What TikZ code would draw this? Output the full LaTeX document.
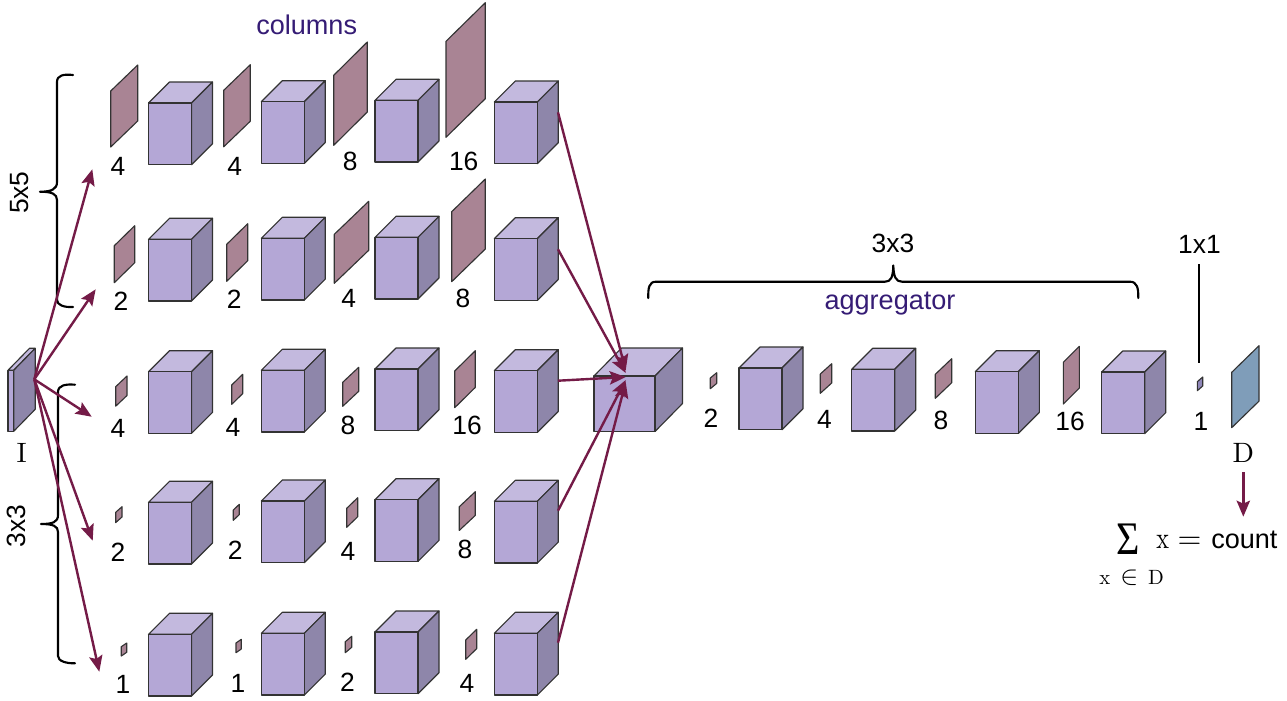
\documentclass[tikz,border=0pt]{standalone}
\usepackage{fontspec}
\usetikzlibrary{arrows.meta}
\newfontfamily\arialface{Liberation Sans}
\newfontfamily\sumface{Liberation Serif}
\definecolor{frontc}{HTML}{B4A7D6}
\definecolor{topc}{HTML}{C3B9DE}
\definecolor{sidec}{HTML}{8E86AA}
\definecolor{platec}{HTML}{A98494}
\definecolor{tinyc}{HTML}{8E86B8}
\definecolor{densc}{HTML}{7F9DB9}
\definecolor{arrowc}{HTML}{741B47}
\definecolor{textc}{HTML}{351C75}
\tikzset{
  edgeline/.style={draw=black!80,line width=0.85pt,line join=round},
  frontface/.style={edgeline,fill=frontc,rectangle,inner sep=0pt,outer sep=0pt,anchor=north west},
  numlabel/.style={inner sep=0pt,font=\fontsize{19.8}{22}\selectfont\arialface},
  tintlabel/.style={inner sep=0pt,anchor=base,text=textc,font=\fontsize{20.3}{22}\selectfont\arialface},
  seriflabel/.style={inner sep=0pt,scale=2.1},
  bracket/.style={draw=black,line width=1.6pt,line cap=round,line join=round},
  flow/.style={draw=arrowc,line width=1.8pt,-{Stealth[length=12pt,width=10pt,inset=2.2pt]}},
}
% name, x, y, w, h, dx, dy (y axis points down, in reference pixels)
\newcommand\boxthree[7]{%
  \path[edgeline,fill=topc] (#2,#3) -- ({#2+#6},{#3-#7}) -- ({#2+#4+#6},{#3-#7}) -- ({#2+#4},#3) -- cycle;
  \path[edgeline,fill=sidec] ({#2+#4},#3) -- ({#2+#4+#6},{#3-#7}) -- ({#2+#4+#6},{#3+#5-#7}) -- ({#2+#4},{#3+#5}) -- cycle;
  \node[frontface,minimum width={#4*0.75pt},minimum height={#5*0.75pt}] (#1) at (#2,#3) {};
}
% x1, ytl, x2, ytr, h, colour
\newcommand\plateshape[6]{%
  \path[edgeline,fill=#6] (#1,#2) -- (#3,#4) -- (#3,{#4+#5}) -- (#1,{#2+#5}) -- cycle;
}
\begin{document}
\begin{tikzpicture}[x=0.75pt,y=-0.75pt]
\useasboundingbox (0,0) rectangle (1287,700);
\fill[white] (0,0) rectangle (1287,700);

% input
\boxthree{inp}{8}{370.3}{5.7}{61}{21.5}{22}

% column cubes
\foreach \cx/\cy [count=\i] in {
 148.5/103,261.3/101.7,375/100.3,494.3/102,
 148.5/239.3,261.3/238.3,375/237.3,494.3/238.7,
 148.5/371.7,261.3/370.3,375/369,494.3/370.7,
 148.5/502.3,261.3/501,375/499.7,494.3/501.3,
 148.5/634.3,261.3/633.3,375/632,494.3/633.3,
 739/368,851.7/369.3,975.3/371.7,1101.7/372}
  {\boxthree{cube\i}{\cx}{\cy}{43}{61.7}{21}{21}}

% merging cube
\boxthree{merge}{594}{376}{61}{55.5}{27.5}{28}

% kernels
\foreach \xa/\ya/\xb/\yb/\hh in {
 110.7/91/137.7/65/56, 223.7/90.3/250.3/64.7/56.5, 333.7/75.3/367.3/42/70, 446/41.3/485.3/2.7/96,
 114.3/245.7/134.7/225.7/37, 226.7/244.3/247.7/223.7/37, 334.3/234.3/368.7/201.3/49, 451.7/211.7/485.3/179/70,
 115.7/386.7/127/376/19.5, 231.7/385/242.7/374.3/19.3, 342.7/382.3/358.7/367.3/24, 454.7/371/475.3/350.7/36.7,
 115.7/512.3/122/506.7/10.3, 233.3/510/239.3/504.3/10.3, 346.7/508.3/357.7/497.7/19, 459.3/506.7/475.3/491.7/23.7,
 121.3/646.7/126.7/643/9.3, 236/643/241.3/639.3/9.7, 345.3/641.7/351.7/636.3/11, 465.7/640/476.7/629.3/19.3,
 710.3/378/716.7/372.7/10.7, 820.3/374/831.7/363.7/19.3, 935.3/374.3/951.7/358.7/24, 1063.3/362.3/1079.3/346.3/41.7}
  {\plateshape{\xa}{\ya}{\xb}{\yb}{\hh}{platec}}
\plateshape{1197.3}{381.7}{1202.7}{377}{9}{tinyc}
\plateshape{1231.7}{372.3}{1259}{345.7}{55.4}{densc}

% numbers
\foreach \lx/\ly/\lt [count=\i] in {
 118/166.3/4, 234.7/166.5/4, 350.3/161/8, 463.7/161/16,
 121/301/2, 234.3/299.5/2, 348.7/298.8/4, 463/298/8,
 118/428/4, 233/427/4, 348/425/8, 467/425/16,
 118/552/2, 235.3/550/2, 348/551/4, 465/549/8,
 123/684/1, 238/683/1, 347.5/682/2, 467/683/4,
 711/418/2, 824.5/419/4, 941/420/8, 1070/421/16, 1201/421/1,
 893/243/3x3, 1199.5/244/1x1}
  {\node[numlabel] (num\i) at (\lx,\ly) {\lt};}
\node[numlabel,rotate=90] (kfive) at (20,192.7) {5x5};
\node[numlabel,rotate=90] (kthree) at (16,526) {3x3};

\node[tintlabel] (colname) at (306.7,34.5) {columns};
\node[tintlabel] (aggname) at (890,309.3) {aggregator};

\node[seriflabel] (inname) at (21.7,453) {$\mathrm{I}$};
\node[seriflabel] (dname) at (1243.3,453.3) {$\mathrm{D}$};

% sum
\node[inner sep=0pt,anchor=base,xscale=.86,text height=23pt,text depth=0pt,font=\fontsize{35}{36}\selectfont\sumface] (sumsign) at (1128,554) {Σ};
\node[inner sep=0pt,anchor=base west,xscale=1.8,yscale=2.3] (sumx) at (1156,548.3) {$\mathrm{x}$};
\node[inner sep=0pt,anchor=base west,scale=2.3] (sumeq) at (1177,548.3) {$=$};
\node[inner sep=0pt,anchor=base west,font=\fontsize{20.3}{22}\selectfont\arialface] (sumcount) at (1211,548.3) {count};
\node[inner sep=0pt,anchor=base west,scale=1.55] (sumindex) at (1099,584) {$\mathrm{x}\hspace{4.8pt}\scalebox{1.3}{$\in$}\hspace{4.8pt}\mathrm{D}$};

% brackets
\draw[bracket] (73,75) .. controls (64,74) and (57,75) .. (57,82) -- (57,182)
  .. controls (57,189) and (52,191.7) .. (40,191.7)
  .. controls (52,191.7) and (57,194) .. (57,200) -- (57,300)
  .. controls (57,305) and (64,307.5) .. (73,307);
\draw[bracket] (75,384.7) .. controls (66,384) and (58,385) .. (58,392) -- (58,515)
  .. controls (58,522) and (53,524) .. (41,524)
  .. controls (53,524) and (58,526) .. (58,532) -- (58,656)
  .. controls (58,661) and (66,663.5) .. (75,663.3);
\draw[bracket] (648.3,298) .. controls (648,288) and (649,281.7) .. (656,281.7) -- (885,281.7)
  .. controls (891,281.7) and (893,277) .. (893.3,265.5)
  .. controls (893.6,277) and (896,281.7) .. (902,281.7) -- (1130,281.7)
  .. controls (1137,281.7) and (1138.5,288) .. (1138.3,298);

% 1x1 rule
\coordinate (ruleTop) at (1199.3,264);
\coordinate (ruleEnd) at (1199.3,362.7);
\draw[bracket,line cap=butt] (ruleTop) -- (ruleEnd);

% arrows out of the input
\coordinate (inOut) at (34.3,379.3);
\foreach \tx/\ty [count=\i] in {92.3/169.3,95.7/289.3,91.7/416.7,92.7/540.7,99.3/671.7}{
  \coordinate (colIn\i) at (\tx,\ty);
  \draw[flow] (inOut) -- (colIn\i);
}
% arrows into the merging cube
\foreach \sy/\ey [count=\i] in {112.3/370.5,249.3/373,380.7/377,510.7/380,642.7/382}{
  \coordinate (colOut\i) at (558,\sy);
  \coordinate (mergeIn\i) at (625.7,\ey);
  \draw[flow] (colOut\i) -- (mergeIn\i);
}
% arrow to the sum
\coordinate (dOut) at (1243.3,472.3);
\coordinate (sumIn) at (1243.3,516.7);
\draw[flow] (dOut) -- (sumIn);
\end{tikzpicture}
\end{document}
